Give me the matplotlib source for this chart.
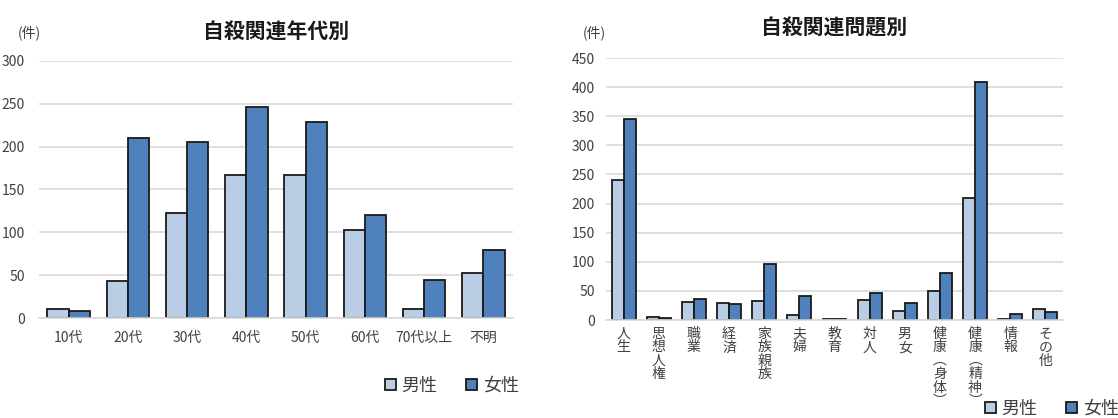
import numpy as np
import matplotlib.pyplot as plt

plt.rcParams['font.family'] = ['Noto Sans CJK JP', 'DejaVu Sans']

# 年代別
age_labels = ['10代', '20代', '30代', '40代', '50代', '60代', '70代以上', '不明']
age_male = [10, 43, 123, 167, 167, 103, 10, 52]
age_female = [8, 210, 206, 246, 229, 120, 44, 79]

# 問題別
issue_labels = ['人生', '思想人権', '職業', '経済', '家族親族', '夫婦', '教育', '対人',
                '男女', '健康︵身体︶', '健康︵精神︶', '情報', 'その他']
issue_male = [240, 5, 31, 29, 32, 8, 1, 35, 15, 49, 209, 2, 19]
issue_female = [346, 3, 36, 28, 97, 41, 2, 46, 29, 80, 408, 10, 13]

MALE = '#B9CDE5'
FEMALE = '#4F81BD'
GRID = '#D9D9D9'
TXT = '#404040'

fig = plt.figure(figsize=(11.18, 4.18), dpi=100)
W, H = 1118, 418


def box(x0, y0, x1, y1):
    return [x0 / W, 1 - y1 / H, (x1 - x0) / W, (y1 - y0) / H]


def style(ax, ymax, step):
    ax.set_ylim(0, ymax)
    ax.set_yticks(np.arange(0, ymax + 1, step))
    ax.grid(axis='y', color=GRID, linewidth=1.2)
    ax.set_axisbelow(True)
    for s in ['top', 'right', 'left']:
        ax.spines[s].set_visible(False)
    ax.spines['bottom'].set_color(GRID)
    ax.spines['bottom'].set_linewidth(1.2)
    ax.tick_params(length=0, colors=TXT, labelsize=10)


def bars(ax, male, female, width):
    x = np.arange(len(male))
    m = ax.bar(x - width / 2, male, width, color=MALE, edgecolor='#1a1a1a', linewidth=1.3, label='男性')
    f = ax.bar(x + width / 2, female, width, color=FEMALE, edgecolor='#1a1a1a', linewidth=1.3, label='女性')
    ax.set_xlim(-0.5, len(male) - 0.5)
    return x, m, f


def legend(ax, cx, cy):
    ax.legend(loc='center', bbox_to_anchor=(cx / W, 1 - cy / H), bbox_transform=fig.transFigure,
              ncol=2, frameon=False, fontsize=13, handlelength=0.6, handleheight=0.6,
              handletextpad=0.3, columnspacing=1.6, labelcolor=TXT)


# left chart
ax1 = fig.add_axes(box(39, 61, 513, 318))
x, m, f = bars(ax1, age_male, age_female, 0.36)
style(ax1, 300, 50)
ax1.set_xticks(x)
ax1.set_xticklabels(age_labels)
ax1.tick_params(axis='x', pad=9)
ax1.tick_params(axis='y', pad=10)
ax1.set_title('自殺関連年代別', fontsize=15, fontweight='bold', color='#1a1a1a', pad=17)
fig.text(18 / W, 1 - 33 / H, '(件)', fontsize=10, color=TXT, va='center')
legend(ax1, 452, 386)

# right chart
ax2 = fig.add_axes(box(606, 58, 1063, 320))
x, m, f = bars(ax2, issue_male, issue_female, 0.34)
style(ax2, 450, 50)
ax2.set_xticks(x)
ax2.set_xticklabels(['\n'.join(s) for s in issue_labels], va='top', linespacing=0.95)
ax2.tick_params(axis='x', pad=5, labelsize=10)
ax2.tick_params(axis='y', pad=8)
ax2.set_title('自殺関連問題別', fontsize=15, fontweight='bold', color='#1a1a1a', pad=17)
fig.text(583 / W, 1 - 33 / H, '(件)', fontsize=10, color=TXT, va='center')
legend(ax2, 1052, 409)

fig.savefig('out.png', dpi=100)
